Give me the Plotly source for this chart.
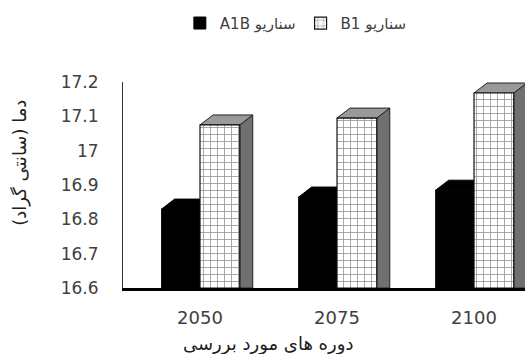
import plotly.graph_objects as go

periods = ["2050", "2075", "2100"]
a1b = [16.83, 16.865, 16.885]
b1 = [17.075, 17.095, 17.168]
ticks_y = [16.6, 16.7, 16.8, 16.9, 17.0, 17.1, 17.2]
name_a1b = "A1B سناریو"
name_b1 = "B1 سناریو"
y_title = "دما (سانتی گراد)\u200f"
x_title = "دوره های مورد بررسی"

xpos = list(range(len(periods)))
BASE = 16.6
W = 0.28
DX = 0.095
DY = 0.029

fig = go.Figure()
fig.add_trace(go.Bar(
    x=xpos, y=[v - BASE for v in a1b], base=BASE, name=name_a1b,
    width=W, offset=-W,
    marker=dict(color="#000000", line=dict(color="#000000", width=1)),
))
fig.add_trace(go.Bar(
    x=xpos, y=[v - BASE for v in b1], base=BASE, name=name_b1,
    width=W + 0.01, offset=0,
    marker=dict(color="#ffffff",
                line=dict(color="#111111", width=1.2),
                pattern=dict(shape="+", fgcolor="#2a2a2a", bgcolor="#ffffff",
                             size=7, solidity=0.22)),
))

shapes = []
for i, (va, vb) in enumerate(zip(a1b, b1)):
    x0, x1 = i - W, i
    shapes.append(dict(type="path", xref="x", yref="y", layer="below",
                       path=f"M{x0},{va} L{x0+DX},{va+DY} L{x1+DX},{va+DY} L{x1},{va} Z",
                       fillcolor="#000000", line=dict(color="#000000", width=1)))
    x0, x1 = i, i + W + 0.01
    shapes.append(dict(type="path", xref="x", yref="y", layer="below",
                       path=f"M{x1},{BASE} L{x1},{vb} L{x1+DX},{vb+DY} L{x1+DX},{BASE} Z",
                       fillcolor="#707070", line=dict(color="#222222", width=1)))
    shapes.append(dict(type="path", xref="x", yref="y", layer="below",
                       path=f"M{x0},{vb} L{x0+DX},{vb+DY} L{x1+DX},{vb+DY} L{x1},{vb} Z",
                       fillcolor="#9a9a9a", line=dict(color="#222222", width=1)))

fig.update_layout(
    width=525, height=354,
    margin=dict(l=123, r=0, t=82, b=66),
    paper_bgcolor="white", plot_bgcolor="white",
    barmode="overlay",
    showlegend=True,
    legend=dict(orientation="h", x=0.43, y=1.285, xanchor="center", yanchor="middle",
                font=dict(family="DejaVu Sans", size=15, color="#404040"),
                traceorder="normal", itemwidth=30),
    shapes=shapes,
    font=dict(family="DejaVu Sans", color="#404040"),
)
fig.update_xaxes(
    range=[-0.562, 2.372], tickvals=xpos, ticktext=periods,
    showgrid=False, zeroline=False, showline=True, linecolor="#000000", linewidth=2.5,
    ticks="", tickfont=dict(family="DejaVu Sans", size=18, color="#404040"),
    ticklabelstandoff=12,
)
fig.update_yaxes(
    range=[16.6, 17.2], tickvals=ticks_y,
    showgrid=False, zeroline=False, showline=True, linecolor="#333333", linewidth=1,
    ticks="", tickfont=dict(family="DejaVu Sans", size=17, color="#404040"),
    ticklabelstandoff=20,
)
fig.add_annotation(text=y_title, xref="paper", yref="paper", x=-0.255, y=0.61,
                   xanchor="center", yanchor="middle", textangle=-90, showarrow=False,
                   font=dict(family="DejaVu Sans", size=18, color="#202020"))
fig.add_annotation(text=x_title, xref="paper", yref="paper", x=0.36, y=-0.27,
                   xanchor="center", yanchor="middle", showarrow=False,
                   font=dict(family="DejaVu Sans", size=18, color="#202020"))

fig.write_html("out.html")
